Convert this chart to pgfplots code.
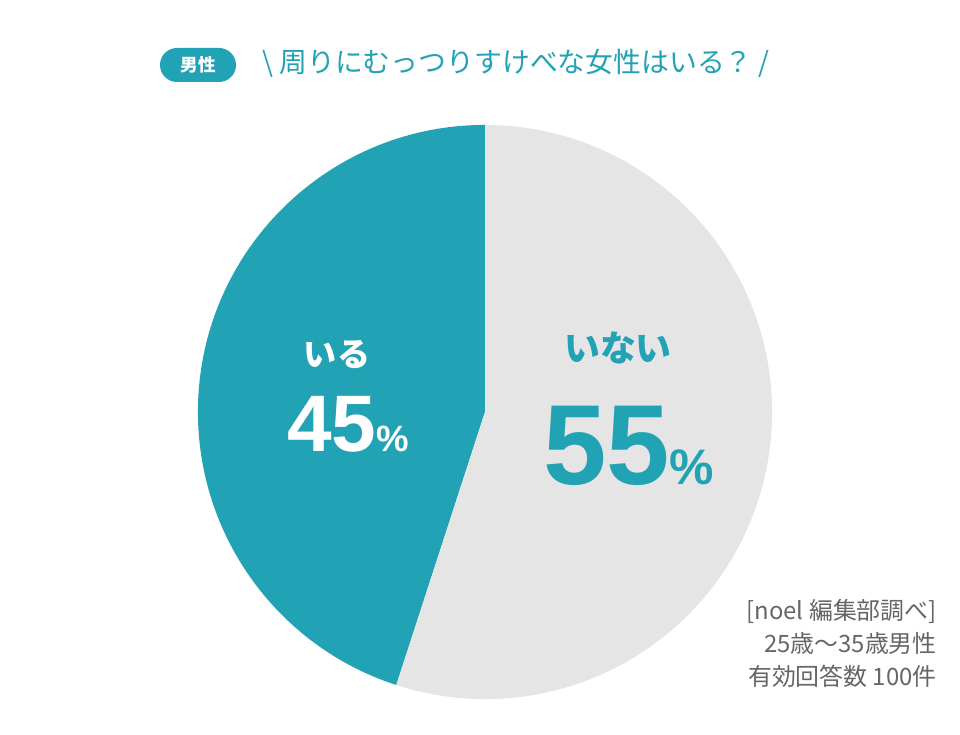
\documentclass[border=0pt]{standalone}
\usepackage{pgfplots}
\pgfplotsset{compat=1.18}
\usepackage{pgfplotstable}
\usepackage{fontspec}
\setmainfont{Liberation Sans}
\newfontfamily\jp{Noto Sans CJK JP}
\definecolor{teal1}{HTML}{22A3B5}
\definecolor{pgray}{HTML}{E5E5E5}
\definecolor{srcgray}{HTML}{666666}
\pgfplotstableread{
idx value
0 55
1 45
}\piedata
\pgfplotstablegetelem{0}{value}\of\piedata \let\vNo\pgfplotsretval
\pgfplotstablegetelem{1}{value}\of\piedata \let\vYes\pgfplotsretval
\pgfmathsetmacro{\aYes}{90+\vYes*3.6}
\pgfmathsetmacro{\aNo}{\aYes+\vNo*3.6}
\begin{document}
\begin{tikzpicture}
\begin{axis}[x=0.025cm,y=0.025cm,xmin=0,xmax=960,ymin=0,ymax=720,
  hide axis,clip=false,scale only axis]
\fill[white] (axis cs:0,0) rectangle (axis cs:960,720);
% pie: centre (485,308), radius 287px = 7.175cm
\fill[teal1] (axis cs:485,308) -- ++(90:7.175cm) arc[start angle=90,end angle=\aYes,radius=7.175cm] -- cycle;
\fill[pgray] (axis cs:485,308) -- ++(\aYes:7.175cm) arc[start angle=\aYes,end angle=\aNo,radius=7.175cm] -- cycle;
% badge
\node[fill=teal1,rounded corners=0.425cm,minimum width=1.9cm,minimum height=0.85cm,inner sep=0pt,text=white,
  font=\jp\bfseries\fontsize{12.5}{13}\selectfont] at (axis cs:198,655) {男性};
% title
\node[anchor=west,inner sep=0pt,text=teal1,font=\jp\fontsize{19.8}{20}\selectfont] at (axis cs:262,657)
  {\textbackslash\ 周りにむっつりすけべな女性はいる？ /};
% labels
\node[text=white,inner sep=0pt,font=\jp\bfseries\fontsize{23.5}{24}\selectfont] at (axis cs:337,365) {いる};
\node[anchor=base west,inner sep=0pt,text=white,font=\bfseries] at (axis cs:287,268)
  {{\fontsize{57}{58}\selectfont \vYes}{\fontsize{26}{28}\selectfont\%}};
\node[text=teal1,inner sep=0pt,font=\jp\bfseries\fontsize{25.5}{26}\selectfont] at (axis cs:618,372) {いない};
\node[anchor=base west,inner sep=0pt,text=teal1,font=\bfseries] at (axis cs:543,235)
  {{\fontsize{81}{82}\selectfont \vNo}{\fontsize{35.5}{38}\selectfont\%}};
% source
\node[anchor=base east,inner sep=0pt,text=srcgray,font=\jp\fontsize{17}{17}\selectfont] at (axis cs:937,100) {[noel 編集部調べ]};
\node[anchor=base east,inner sep=0pt,text=srcgray,font=\jp\fontsize{17}{17}\selectfont] at (axis cs:937,67) {25歳～35歳男性};
\node[anchor=base east,inner sep=0pt,text=srcgray,font=\jp\fontsize{17}{17}\selectfont] at (axis cs:937,34) {有効回答数 100件};
\end{axis}
\end{tikzpicture}
\end{document}
